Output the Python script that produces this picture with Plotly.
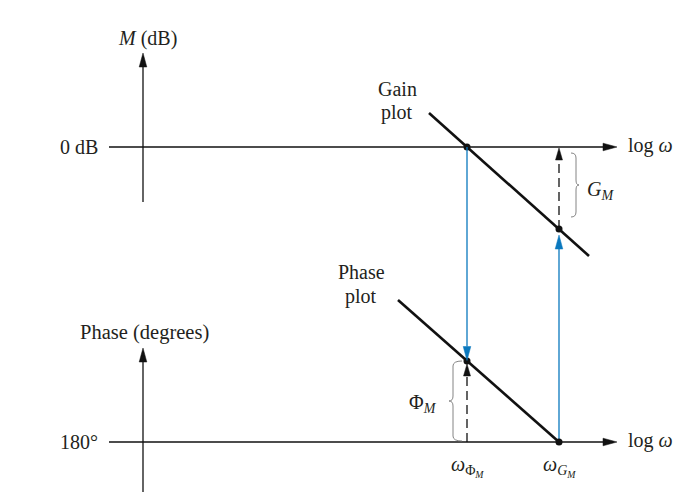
import plotly.graph_objects as go

# ---------------- data (log-frequency units, dB, degrees) ----------------
W, H = 694, 492
X_RANGE = [-1.35, 5.59]          # log ω
DB_RANGE = [-88.25, 34.75]       # magnitude (dB)
DEG_RANGE = [151.0, 397.0]       # phase (degrees)

freq_axis_w = [-0.34, 4.74]      # horizontal axes extent (log ω)
mag_axis_db = [-13.75, 23.5]     # magnitude axis extent
phase_axis_deg = [140.0, 227.0]  # phase axis extent
phase_ref_deg = 180.0

w_phi_m = 3.24                   # gain-crossover frequency  (ω_ΦM)
w_g_m = 4.16                     # phase-crossover frequency (ω_GM)

gain_line_w = [2.86, 4.46]
gain_line_db = [8.5, -27.25]
gain_points_w = [w_phi_m, w_g_m]
gain_points_db = [0.0, -20.5]

phase_line_w = [2.55, 4.16]
phase_line_deg = [251.0, 180.0]
phase_points_w = [w_phi_m, w_g_m]
phase_points_deg = [220.5, 180.0]

FONT = "Liberation Serif"
FS = 20
TXT = "#231f20"
BLUE = "#0a78be"
BLACK = "#111111"

# pixel scales (figure has zero margins)
PPX = W / (X_RANGE[1] - X_RANGE[0])
PPDB = H / (DB_RANGE[1] - DB_RANGE[0])
PPDEG = H / (DEG_RANGE[1] - DEG_RANGE[0])


def db_to_deg(v):
    f = (v - DB_RANGE[0]) / (DB_RANGE[1] - DB_RANGE[0])
    return DEG_RANGE[0] + f * (DEG_RANGE[1] - DEG_RANGE[0])


def deg_to_db(v):
    f = (v - DEG_RANGE[0]) / (DEG_RANGE[1] - DEG_RANGE[0])
    return DB_RANGE[0] + f * (DB_RANGE[1] - DB_RANGE[0])


fig = go.Figure()
shapes = []
annotations = []


def line(xs, ys, yaxis="y", color=BLACK, width=1.3, dash=None):
    fig.add_trace(go.Scatter(x=xs, y=ys, yaxis=yaxis, mode="lines",
                             line=dict(color=color, width=width, dash=dash),
                             hoverinfo="skip", showlegend=False))


def head(x, y, direction, yref="y", color=BLACK, L=14.0, hw=3.8):
    ppy = PPDB if yref == "y" else PPDEG
    if direction == "up":
        pts = [(x, y), (x - hw / PPX, y - L / ppy), (x + hw / PPX, y - L / ppy)]
    elif direction == "down":
        pts = [(x, y), (x - hw / PPX, y + L / ppy), (x + hw / PPX, y + L / ppy)]
    else:  # right
        pts = [(x, y), (x - L / PPX, y + hw / ppy), (x - L / PPX, y - hw / ppy)]
    path = "M" + " L".join(f"{a},{b}" for a, b in pts) + " Z"
    shapes.append(dict(type="path", path=path, xref="x", yref=yref,
                       fillcolor=color, line=dict(color=color, width=0.5)))
    return L / ppy if direction in ("up", "down") else L / PPX


def brace(xe, xb, xt, ya, yb, yref, r):
    ym = (ya + yb) / 2
    p = (f"M{xe},{ya} Q{xb},{ya} {xb},{ya - r} L{xb},{ym + r} "
         f"Q{xb},{ym} {xt},{ym} Q{xb},{ym} {xb},{ym - r} "
         f"L{xb},{yb + r} Q{xb},{yb} {xe},{yb}")
    shapes.append(dict(type="path", path=p, xref="x", yref=yref,
                       line=dict(color="#777777", width=0.9)))


def text(x, y, s, yref="y", xanchor="center", size=FS):
    annotations.append(dict(x=x, y=y, xref="x", yref=yref, text=s, showarrow=False,
                            xanchor=xanchor, yanchor="middle",
                            font=dict(family=FONT, size=size, color=TXT)))


# ---------------- magnitude axes ----------------
hl = head(0, mag_axis_db[1], "up")
line([0, 0], [mag_axis_db[0], mag_axis_db[1] - hl])
hl = head(freq_axis_w[1], 0, "right")
line([freq_axis_w[0], freq_axis_w[1] - hl], [0, 0])

# ---------------- phase axes ----------------
hl = head(0, phase_axis_deg[1], "up", yref="y2")
line([0, 0], [phase_axis_deg[0], phase_axis_deg[1] - hl], yaxis="y2")
hl = head(freq_axis_w[1], phase_ref_deg, "right", yref="y2")
line([freq_axis_w[0], freq_axis_w[1] - hl], [phase_ref_deg, phase_ref_deg], yaxis="y2")

# ---------------- blue projection arrows ----------------
tip = phase_points_deg[0] + 0.5 / PPDEG
hl = head(w_phi_m, tip, "down", yref="y2", color=BLUE)
line([w_phi_m, w_phi_m], [db_to_deg(gain_points_db[0]), tip + hl], yaxis="y2", color=BLUE, width=1.3)

tip = gain_points_db[1] - 6 / PPDB
hl = head(w_g_m, tip, "up", color=BLUE)
line([w_g_m, w_g_m], [deg_to_db(phase_ref_deg), tip - hl], color=BLUE, width=1.3)

# ---------------- dashed margin arrows ----------------
tip = gain_points_db[0] - 1 / PPDB
hl = head(w_g_m, tip, "up", L=12, hw=3.5)
line([w_g_m, w_g_m], [gain_points_db[1], tip - hl], dash="9px,5px", width=1.3)

tip = phase_points_deg[0] - 3 / PPDEG
hl = head(w_phi_m, tip, "up", yref="y2", L=12, hw=3.5)
line([w_phi_m, w_phi_m], [phase_ref_deg, tip - hl], yaxis="y2", dash="9px,5px", width=1.3)

# ---------------- gain and phase plots ----------------
line(gain_line_w, gain_line_db, width=2.6, color=BLACK)
line(phase_line_w, phase_line_deg, yaxis="y2", width=2.6, color=BLACK)
fig.add_trace(go.Scatter(x=gain_points_w, y=gain_points_db, mode="markers",
                         marker=dict(size=7, color=BLACK), hoverinfo="skip", showlegend=False))
fig.add_trace(go.Scatter(x=phase_points_w, y=phase_points_deg, yaxis="y2", mode="markers",
                         marker=dict(size=7, color=BLACK), hoverinfo="skip", showlegend=False))

# ---------------- braces ----------------
brace(w_g_m + 12 / PPX, w_g_m + 17 / PPX, w_g_m + 20 / PPX,
      gain_points_db[0] - 6 / PPDB, gain_points_db[1] + 12 / PPDB, "y", 5 / PPDB)
brace(w_phi_m - 5 / PPX, w_phi_m - 14 / PPX, w_phi_m - 18 / PPX,
      phase_points_deg[0], phase_ref_deg + 1 / PPDEG, "y2", 5 / PPDEG)

# ---------------- labels ----------------
text(0.04, mag_axis_db[1] + 15 / PPDB, "<i>M</i> (dB)")
text(-0.43, 0, "0 dB", xanchor="right")
text(freq_axis_w[1] + 0.09, 1.5 / PPDB, "log <i>ω</i>", xanchor="left")
text(gain_line_w[0] - 0.32, gain_line_db[0] + 24 / PPDB, "Gain")
text(gain_line_w[0] - 0.32, gain_line_db[0] + 1 / PPDB, "plot")
text(w_g_m + 0.26, gain_points_db[1] / 2 - 2 / PPDB, "<i>G<sub>M</sub></i>", xanchor="left")

text(0.01, phase_axis_deg[1] + 16 / PPDEG, "Phase (degrees)", yref="y2", size=20.5)
text(-0.43, phase_ref_deg, "180°", yref="y2", xanchor="right")
text(freq_axis_w[1] + 0.09, phase_ref_deg + 1.5 / PPDEG, "log <i>ω</i>", yref="y2", xanchor="left")
text(phase_line_w[0] - 0.37, phase_line_deg[0] + 28 / PPDEG, "Phase", yref="y2")
text(phase_line_w[0] - 0.37, phase_line_deg[0] + 4 / PPDEG, "plot", yref="y2")
text(w_phi_m - 0.28, (phase_points_deg[0] + phase_ref_deg) / 2 - 2 / PPDEG,
     "Φ<sub><i>M</i></sub>", yref="y2", xanchor="right")
text(w_phi_m, phase_ref_deg - 24 / PPDEG, "<i>ω</i><sub>Φ<sub><i>M</i></sub></sub>", yref="y2")
text(w_g_m, phase_ref_deg - 24 / PPDEG, "<i>ω</i><sub><i>G<sub>M</sub></i></sub>", yref="y2")

fig.update_layout(
    width=W, height=H, margin=dict(l=0, r=0, t=0, b=0),
    paper_bgcolor="white", plot_bgcolor="white", showlegend=False,
    xaxis=dict(range=X_RANGE, visible=False, fixedrange=True),
    yaxis=dict(range=DB_RANGE, visible=False, fixedrange=True),
    yaxis2=dict(range=DEG_RANGE, visible=False, overlaying="y", fixedrange=True),
    shapes=shapes, annotations=annotations,
)
fig.write_html("out.html")
